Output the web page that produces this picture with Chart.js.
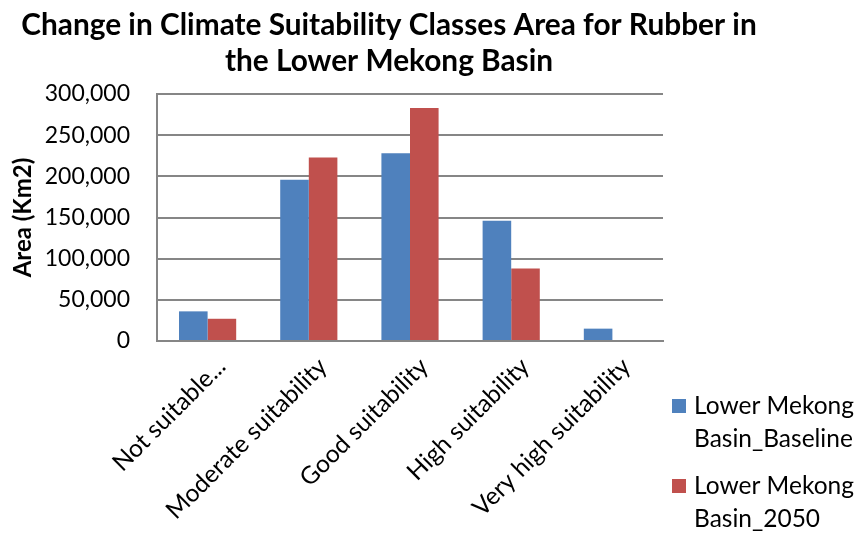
<!DOCTYPE html>
<html>
<head>
<meta charset="utf-8">
<script src="https://cdn.jsdelivr.net/npm/chart.js@4/dist/chart.umd.min.js"></script>
<style>
  html, body { margin: 0; padding: 0; background: #ffffff; }
  #wrap { width: 858px; height: 533px; }
</style>
</head>
<body>
<div id="wrap"><canvas id="c" width="858" height="533"></canvas></div>
<script>
const titleLines = ["Change in Climate Suitability Classes Area for Rubber in", "the Lower Mekong Basin"];
const yAxisTitle = "Area (Km2)";
const categories = ["Not suitable...", "Moderate suitability", "Good suitability", "High suitability", "Very high suitability"];
const seriesNames = ["Lower Mekong Basin_Baseline", "Lower Mekong Basin_2050"];
const baselineValues = [36000, 196000, 228000, 146000, 15000];
const values2050 = [27000, 223000, 283000, 88000, 0];
const seriesColors = ["#4F81BD", "#C0504D"];
const yTicks = [0, 50000, 100000, 150000, 200000, 250000, 300000];

const FONT = "Lato, 'Open Sans', sans-serif";

const titlePlugin = {
  id: 'customTitle',
  afterDraw(chart) {
    const ctx = chart.ctx;
    ctx.save();
    ctx.fillStyle = '#000';
    ctx.font = "bold 29.8px " + FONT;
    ctx.textAlign = 'center';
    ctx.textBaseline = 'middle';
    ctx.fillText(titleLines[0], 389, 25);
    ctx.fillText(titleLines[1], 389, 61);
    ctx.restore();
  }
};

const legendPlugin = {
  id: 'customLegend',
  afterDraw(chart) {
    const ctx = chart.ctx;
    ctx.save();
    ctx.font = "24.5px " + FONT;
    ctx.textAlign = 'left';
    ctx.textBaseline = 'middle';
    const startY = [406, 486];
    chart.data.datasets.forEach((ds, i) => {
      const y = startY[i];
      ctx.fillStyle = ds.backgroundColor;
      ctx.fillRect(672, y - 7, 14, 14);
      ctx.fillStyle = '#000';
      const label = ds.label;
      const cut = label.indexOf(' ', label.indexOf('Mekong'));
      ctx.fillText(label.slice(0, cut), 694, y);
      ctx.fillText(label.slice(cut + 1), 694, y + 33);
    });
    ctx.restore();
  }
};

new Chart(document.getElementById('c'), {
  type: 'bar',
  data: {
    labels: categories,
    datasets: [
      { label: seriesNames[0], data: baselineValues, backgroundColor: seriesColors[0], borderWidth: 0 },
      { label: seriesNames[1], data: values2050, backgroundColor: seriesColors[1], borderWidth: 0 }
    ]
  },
  options: {
    responsive: false,
    animation: false,
    devicePixelRatio: 1,
    layout: { padding: { top: 94, right: 195, left: 0, bottom: 0 } },
    plugins: {
      legend: { display: false },
      title: { display: false },
      tooltip: { enabled: false }
    },
    datasets: { bar: { categoryPercentage: 0.565, barPercentage: 1.0 } },
    scales: {
      x: {
        grid: { display: false, drawTicks: false },
        border: { display: true, color: '#868686', width: 2 },
        ticks: {
          color: '#000',
          font: { family: FONT, size: 24.5 },
          minRotation: 45,
          maxRotation: 45,
          autoSkip: false,
          padding: 11,
          labelOffset: 14
        },
        afterFit(scale) { scale.height = 533 - 341; }
      },
      y: {
        min: 0,
        max: 300000,
        afterBuildTicks(scale) { scale.ticks = yTicks.map(v => ({ value: v })); },
        grid: { color: '#868686', lineWidth: 2, drawTicks: false },
        border: { display: true, color: '#868686', width: 2 },
        ticks: {
          color: '#000',
          font: { family: FONT, size: 23 },
          padding: 27,
          callback: (v) => v.toLocaleString('en-US')
        },
        title: {
          display: true,
          text: yAxisTitle,
          color: '#000',
          font: { family: FONT, size: 24, weight: 'bold' },
          padding: { top: 9, bottom: 0 }
        },
        afterFit(scale) { scale.width = 157; }
      }
    }
  },
  plugins: [titlePlugin, legendPlugin]
});
</script>
</body>
</html>
